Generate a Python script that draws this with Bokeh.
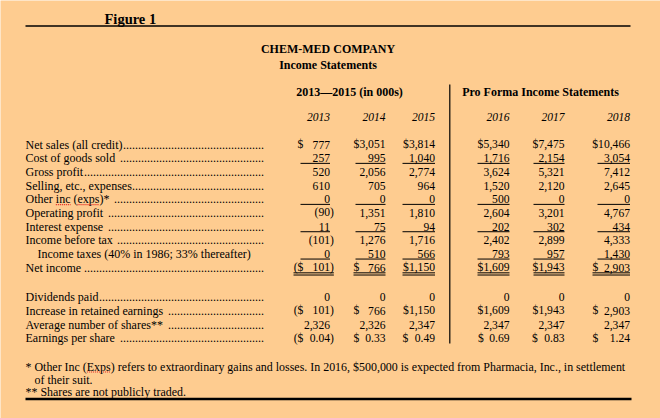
from bokeh.plotting import figure
from bokeh.models import Range1d
from bokeh.core.properties import value
from bokeh.embed import file_html
from bokeh.resources import INLINE

BG = "#FECC90"
FONT = value("Liberation Serif")

# ---------------- data ----------------
title = "Figure 1"
company = "CHEM-MED COMPANY"
subtitle = "Income Statements"
hist_header = "2013\u20142015 (in 000s)"
proforma_header = "Pro Forma Income Statements"
years = ["2013", "2014", "2015", "2016", "2017", "2018"]

top_labels = ["Net sales (all credit)", "Cost of goods sold ", "Gross profit",
              "Selling, etc., expenses", "Other inc (exps)* ", "Operating profit ",
              "Interest expense ", "Income before tax ",
              "Income taxes (40% in 1986; 33% thereafter)", "Net income"]
top_leaders = [True, True, True, True, True, True, True, True, False, True]
top_2013 = ["$ 777", "257", "520", "610", "0", "(90)", "11", "(101)", "0", "($ 101)"]
top_2014 = ["$3,051", "995", "2,056", "705", "0", "1,351", "75", "1,276", "510", "$ 766"]
top_2015 = ["$3,814", "1,040", "2,774", "964", "0", "1,810", "94", "1,716", "566", "$1,150"]
top_2016 = ["$5,340", "1,716", "3,624", "1,520", "500", "2,604", "202", "2,402", "793", "$1,609"]
top_2017 = ["$7,475", "2,154", "5,321", "2,120", "0", "3,201", "302", "2,899", "957", "$1,943"]
top_2018 = ["$10,466", "3,054", "7,412", "2,645", "0", "4,767", "434", "4,333", "1,430", "$ 2,903"]
single_underline_rows = [1, 4, 6, 8]
double_underline_rows = [9]

bottom_labels = ["Dividends paid", "Increase in retained earnings ",
                 "Average number of shares** ", "Earnings per share "]
bottom_2013 = ["0", "($ 101)", "2,326", "($ 0.04)"]
bottom_2014 = ["0", "$ 766", "2,326", "$ 0.33"]
bottom_2015 = ["0", "$1,150", "2,347", "$ 0.49"]
bottom_2016 = ["0", "$1,609", "2,347", "$ 0.69"]
bottom_2017 = ["0", "$1,943", "2,347", "$ 0.83"]
bottom_2018 = ["0", "$ 2,903", "2,347", "$ 1.24"]

footnote_1 = ("* Other Inc (Exps) refers to extraordinary gains and losses. In 2016, "
              "$500,000 is expected from Pharmacia, Inc., in settlement")
footnote_1b = "of their suit."
footnote_2 = "** Shares are not publicly traded."

top_cols = [top_2013, top_2014, top_2015, top_2016, top_2017, top_2018]
bottom_cols = [bottom_2013, bottom_2014, bottom_2015, bottom_2016, bottom_2017, bottom_2018]

# ---------------- layout ----------------
COL_R = [329.5, 385, 434.5, 509, 564, 629.5]
COL_D = [297, 353, 402, 477.5, 531.5, 592]
UL_L = [300, 355, 402, 477, 533, 597]
DU_L = [293, 353, 402, 477, 533, 592]
LABEL_X = 25
LEADER_END = 263.5
TOP_Y0, BOT_Y0, ROW_H = 144.0, 296.8, 13.67
LAB_FS, NUM_FS, FOOT_FS = 12, 11.6, 11.95

# Times metrics (per 1000 em) for leader/underline placement
_W = {' ': 250, '!': 333, '$': 500, '%': 833, '(': 333, ')': 333, '*': 500, ',': 250,
      '-': 333, '.': 250, ';': 278, ':': 278}
for c in "0123456789":
    _W[c] = 500
_W.update(dict(zip("ABCDEFGHIJKLMNOPQRSTUVWXYZ",
                   [722, 667, 667, 722, 611, 556, 722, 722, 333, 389, 722, 611, 889, 722,
                    722, 556, 722, 667, 556, 611, 722, 722, 944, 722, 722, 611])))
_W.update(dict(zip("abcdefghijklmnopqrstuvwxyz",
                   [444, 500, 444, 500, 444, 333, 500, 500, 278, 278, 500, 278, 778, 500,
                    500, 500, 500, 333, 389, 278, 500, 500, 722, 500, 500, 444])))


def tw(s, fs):
    return sum(_W.get(c, 500) for c in s) * fs / 1000.0


p = figure(width=660, height=418, x_range=Range1d(0, 660), y_range=Range1d(418, 0),
           output_backend="svg", toolbar_location=None, min_border=0,
           x_axis_location=None, y_axis_location=None)
p.grid.visible = False
p.outline_line_color = None
p.background_fill_color = BG
p.border_fill_color = BG


def txt(xs, ys, ts, align="left", size=12, style="normal", color="black"):
    p.text(x=xs, y=ys, text=ts, text_align=align, text_baseline="middle",
           text_font=FONT, text_font_size=f"{size}px", text_font_style=style,
           text_color=color)


# headings
txt([104], [18.5], [title], size=14.5, style="bold")
p.segment(x0=[25], y0=[25.5], x1=[630], y1=[25.5], line_color="black", line_width=1.4)
txt([327.5], [48], [company], align="center", style="bold")
txt([327.5], [64], [subtitle], align="center", style="bold")
txt([349], [91.7], [hist_header], align="center", style="bold")
txt([540], [91.7], [proforma_header], align="center", style="bold")
txt(COL_R, [116.7] * 6, years, align="right", size=11.5, style="italic")
p.segment(x0=[449.3], y0=[84], x1=[449.3], y1=[343], line_color="black", line_width=1.2)


def draw_section(labels, leaders, cols, y0):
    ys = [y0 + i * ROW_H for i in range(len(labels))]
    lx, ly, lt = [], [], []
    dx, dy, dt = [], [], []
    for i, lab in enumerate(labels):
        x = LABEL_X + (12 if lab.startswith("Income taxes") else 0)
        lx.append(x); ly.append(ys[i]); lt.append(lab)
        if leaders[i]:
            n = int((LEADER_END - x - tw(lab, LAB_FS)) / tw(".", LAB_FS))
            dx.append(LEADER_END); dy.append(ys[i]); dt.append("." * max(n, 0))
    txt(lx, ly, lt, size=LAB_FS)
    txt(dx, dy, dt, align="right", size=LAB_FS)
    lx2, ly2, lt2, rx, ry, rt = [], [], [], [], [], []
    for c, col in enumerate(cols):
        for i, s in enumerate(col):
            r = COL_R[c] + (tw(")", NUM_FS) if s.endswith(")") else 0)
            if s.startswith("($ "):
                lx2.append(COL_D[c] - tw("(", NUM_FS)); ly2.append(ys[i]); lt2.append("($")
                s = s[3:]
            elif s.startswith("$ "):
                lx2.append(COL_D[c]); ly2.append(ys[i]); lt2.append("$")
                s = s[2:]
            rx.append(r); ry.append(ys[i]); rt.append(s)
    txt(lx2, ly2, lt2, size=NUM_FS)
    txt(rx, ry, rt, align="right", size=NUM_FS)
    return ys


ty = draw_section(top_labels, top_leaders, top_cols, TOP_Y0)
draw_section(bottom_labels, [True] * 4, bottom_cols, BOT_Y0)

# underlines
x0s, x1s, yy = [], [], []
for r in single_underline_rows:
    for c in range(6):
        x0s.append(UL_L[c]); x1s.append(COL_R[c]); yy.append(ty[r] + 5.2)
for r in double_underline_rows:
    for c in range(6):
        right = COL_R[c] + (tw(")", NUM_FS) if top_cols[c][r].endswith(")") else 0)
        for off in (5.3, 7.5):
            x0s.append(DU_L[c]); x1s.append(right); yy.append(ty[r] + off)
p.segment(x0=x0s, y0=yy, x1=x1s, y1=yy, line_color="black", line_width=1)

# spelling marks
sx0 = [LABEL_X + tw("Other ", LAB_FS), LABEL_X + tw("Other inc (", LAB_FS),
       LABEL_X + tw("* Other Inc (", FOOT_FS)]
sx1 = [sx0[0] + tw("inc", LAB_FS), sx0[1] + tw("exps", LAB_FS), sx0[2] + tw("Exps", FOOT_FS)]
sy = [ty[4] + 5.5, ty[4] + 5.5, 371.5]
p.segment(x0=sx0, y0=sy, x1=sx1, y1=sy, line_color="#e0201e", line_width=1.2, line_dash="1 1")

# footnotes
txt([LABEL_X, LABEL_X + 9, LABEL_X], [366, 379.3, 391.5], [footnote_1, footnote_1b, footnote_2],
    size=FOOT_FS)
p.segment(x0=[25], y0=[398.5], x1=[631], y1=[398.5], line_color="black", line_width=2.4)

html = file_html(p, INLINE)
html = html.replace("<body>", f'<body style="margin:0;overflow:hidden;background:{BG}">', 1)
open("out.html", "w").write(html)
